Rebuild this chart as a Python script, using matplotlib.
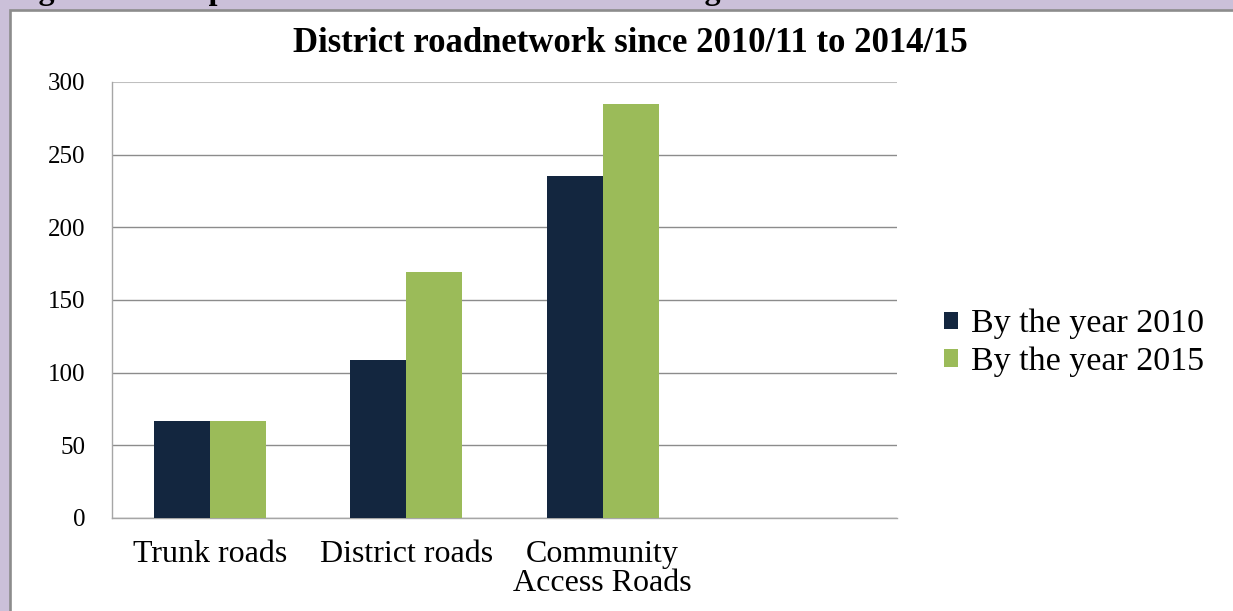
import numpy as np
import matplotlib
matplotlib.use("Agg")
import matplotlib.pyplot as plt
from matplotlib.patches import Rectangle

# Road network length by category
categories = ["Trunk roads", "District roads", "Community\nAccess Roads"]
series_labels = ["By the year 2010", "By the year 2015"]
values_2010 = [67, 109, 235]
values_2015 = [67, 169, 285]
y_ticks = [0, 50, 100, 150, 200, 250, 300]

title = "District roadnetwork since 2010/11 to 2014/15"
caption = "Figure 3: Comparison of the district road network growth"

navy = "#13263f"
green = "#9bbb59"
lavender = "#cbc0d9"
serif = ["Liberation Serif", "DejaVu Serif"]

W, H = 1233, 611
fig = plt.figure(figsize=(W / 100, H / 100), dpi=100)
fig.patch.set_facecolor(lavender)

# white chart panel with a grey frame
panel = Rectangle((9.5 / W, -0.05), 1.1, 1.05 - 10.5 / H, transform=fig.transFigure,
                  facecolor="white", edgecolor="#8c8c8c", linewidth=1.9, zorder=-5)
fig.patches.append(panel)

# caption line above the panel (only the bottom of it shows)
fig.text(10 / W, 1 + 1.5 / H, caption, ha="left", va="baseline",
         fontsize=23, fontweight="bold", family=serif, color="black", zorder=-4)

ax = fig.add_axes([112 / W, 1 - 518 / H, (897 - 112) / W, (518 - 82) / H], zorder=2)
ax.set_facecolor("none")

x = np.arange(len(categories))
bw = 1 / 3.5
ax.bar(x - bw / 2, values_2010, width=bw, color=navy, label=series_labels[0], zorder=3)
ax.bar(x + bw / 2, values_2015, width=bw, color=green, label=series_labels[1], zorder=3)

ax.set_xlim(-0.5, 3.5)
ax.set_ylim(0, 300)
ax.set_yticks(y_ticks)
ax.set_xticks(x)
ax.set_xticklabels(categories, family=serif, fontsize=23, linespacing=1.0)
ax.set_yticklabels([str(t) for t in y_ticks], family=serif, fontsize=18)
ax.tick_params(axis="y", length=0, pad=19)
ax.tick_params(axis="x", length=0, pad=16)

ax.yaxis.grid(True, color="#8c8c8c", linewidth=1.0, zorder=0)
ax.set_axisbelow(True)
# the topmost gridline is drawn lighter and a little heavier
top_line = ax.get_ygridlines()[-1]
top_line.set_color("#bfbfbf")
top_line.set_linewidth(1.5)
for s in ["top", "right"]:
    ax.spines[s].set_visible(False)
ax.spines["left"].set_color("#a6a6a6")
ax.spines["bottom"].set_color("#a6a6a6")
ax.spines["left"].set_linewidth(1.0)
ax.spines["bottom"].set_linewidth(1.0)

fig.text(630 / W, 1 - 52 / H, title, ha="center", va="baseline",
         fontsize=25, fontweight="bold", family=serif, color="black")

leg = fig.legend(loc="center left", bbox_to_anchor=(944 / W, 1 - 343 / H),
                 frameon=False, prop={"family": serif, "size": 24.5},
                 handlelength=0.4, handleheight=0.4, handletextpad=0.4,
                 labelspacing=0.22, borderaxespad=0, borderpad=0)

fig.savefig("out.png", dpi=100, facecolor=fig.get_facecolor())
